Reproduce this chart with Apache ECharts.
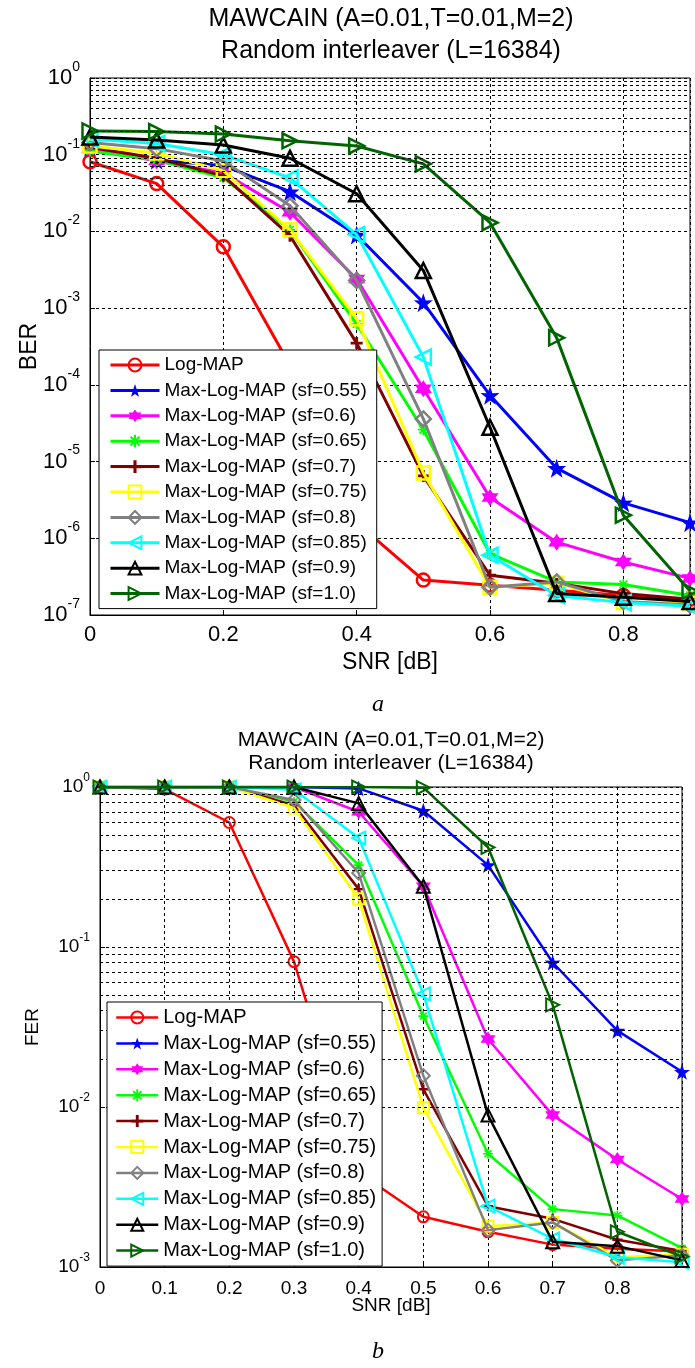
<!DOCTYPE html>
<html>
<head>
<meta charset="utf-8">
<script src="https://cdn.jsdelivr.net/npm/echarts@6/dist/echarts.min.js"></script>
<style>
html,body{margin:0;padding:0;background:#fff;}
#a{position:absolute;left:0;top:0;width:695px;height:720px;}
#b{position:absolute;left:0;top:720px;width:695px;height:648px;}
</style>
</head>
<body>
<div id="a"></div>
<div id="b"></div>
<script>
// ---------------- DATA ----------------
const titleLine1 = 'MAWCAIN (A=0.01,T=0.01,M=2)';
const titleLine2 = 'Random interleaver (L=16384)';
const xName = 'SNR [dB]';
const snr = [0, 0.1, 0.2, 0.3, 0.4, 0.5, 0.6, 0.7, 0.8, 0.9];
const seriesNames = ['Log-MAP', 'Max-Log-MAP (sf=0.55)', 'Max-Log-MAP (sf=0.6)', 'Max-Log-MAP (sf=0.65)',
  'Max-Log-MAP (sf=0.7)', 'Max-Log-MAP (sf=0.75)', 'Max-Log-MAP (sf=0.8)', 'Max-Log-MAP (sf=0.85)',
  'Max-Log-MAP (sf=0.9)', 'Max-Log-MAP (sf=1.0)'];

// BER (figure a)
const berLogMAP = [0.081, 0.042, 0.0063, 1.8e-4, 1.6e-6, 2.85e-7, 2.45e-7, 2.1e-7, 1.8e-7, 1.6e-7];
const berSf055  = [0.125, 0.085, 0.072, 0.033, 0.009, 0.00118, 7.3e-5, 8.2e-6, 2.9e-6, 1.6e-6];
const berSf060  = [0.12, 0.083, 0.058, 0.0178, 0.0024, 8.9e-5, 3.4e-6, 8.9e-7, 4.9e-7, 3.0e-7];
const berSf065  = [0.112, 0.085, 0.05, 0.0105, 6.2e-4, 2.6e-5, 6.3e-7, 2.7e-7, 2.5e-7, 1.8e-7];
const berSf070  = [0.125, 0.09, 0.053, 0.0088, 3.5e-4, 6.5e-6, 3.3e-7, 2.6e-7, 1.9e-7, 1.6e-7];
const berSf075  = [0.13, 0.105, 0.062, 0.0105, 7.3e-4, 7.1e-6, 2.3e-7, 2.6e-7, 1.45e-7, 1.4e-7];
const berSf080  = [0.144, 0.12, 0.083, 0.0216, 0.0023, 3.6e-5, 2.3e-7, 2.7e-7, 1.5e-7, 1.35e-7];
const berSf085  = [0.16, 0.14, 0.10, 0.05, 0.0091, 2.3e-4, 6.0e-7, 1.8e-7, 1.45e-7, 1.3e-7];
const berSf090  = [0.17, 0.155, 0.134, 0.09, 0.031, 0.0031, 2.8e-5, 1.9e-7, 1.7e-7, 1.5e-7];
const berSf100  = [0.204, 0.2, 0.186, 0.152, 0.13, 0.076, 0.013, 4.1e-4, 2.0e-6, 2.05e-7];

// FER (figure b)
const ferLogMAP = [1.0, 0.97, 0.6, 0.081, 0.0039, 0.00206, 0.00166, 0.00138, 0.0013, 0.00125];
const ferSf055  = [1.0, 1.0, 1.0, 1.0, 0.98, 0.71, 0.325, 0.08, 0.030, 0.0166];
const ferSf060  = [1.0, 1.0, 1.0, 1.0, 0.70, 0.24, 0.0266, 0.0089, 0.0047, 0.00266];
const ferSf065  = [1.0, 1.0, 1.0, 0.81, 0.325, 0.037, 0.0051, 0.0023, 0.0021, 0.00131];
const ferSf070  = [1.0, 1.0, 1.0, 0.77, 0.23, 0.0129, 0.0024, 0.0020, 0.00148, 0.00126];
const ferSf075  = [1.0, 1.0, 1.0, 0.74, 0.20, 0.0099, 0.0018, 0.0019, 0.00115, 0.0012];
const ferSf080  = [1.0, 1.0, 1.0, 0.83, 0.29, 0.0157, 0.0017, 0.0019, 0.0011, 0.00118];
const ferSf085  = [1.0, 1.0, 1.0, 0.96, 0.48, 0.051, 0.0024, 0.0015, 0.00115, 0.00107];
const ferSf090  = [1.0, 1.0, 1.0, 1.0, 0.79, 0.24, 0.0089, 0.00144, 0.00135, 0.0011];
const ferSf100  = [1.0, 1.0, 1.0, 1.0, 1.0, 0.99, 0.42, 0.0435, 0.00166, 0.00116];

const berSeries = [berLogMAP, berSf055, berSf060, berSf065, berSf070, berSf075, berSf080, berSf085, berSf090, berSf100];
const ferSeries = [ferLogMAP, ferSf055, ferSf060, ferSf065, ferSf070, ferSf075, ferSf080, ferSf085, ferSf090, ferSf100];

// ---------------- STYLE ----------------
const FONT = '"Liberation Sans", Arial, sans-serif';
const colors = ['#ff0000', '#0000ff', '#ff00ff', '#00ff00', '#800000', '#ffff00', '#808080', '#00ffff', '#000000', '#006400'];
const SYM = {
  circle: 'circle',
  pentagram: 'path://M50,0L61.8,35.1L97.6,34.5L69.1,56.9L79.4,90.5L50,70L20.6,90.5L30.9,56.9L2.4,34.5L38.2,35.1Z',
  hexagram: 'path://M50,0L64.4,25L93.3,25L78.9,50L93.3,75L64.4,75L50,100L35.6,75L6.7,75L21.1,50L6.7,25L35.6,25Z',
  asterisk: 'path://M42,0H58V100H42Z M0,42H100V58H0Z M10,21L21,10L90,79L79,90Z M79,10L90,21L21,90L10,79Z',
  plus: 'path://M38,0H62V38H100V62H62V100H38V62H0V38H38Z',
  square: 'rect',
  diamond: 'diamond',
  left: 'path://M0,50L100,0L100,100Z',
  up: 'path://M50,0L100,100L0,100Z',
  right: 'path://M100,50L0,0L0,100Z'
};
const markers = [
  {s: SYM.circle, open: true, k: 0.85}, {s: SYM.pentagram, open: false, k: 1.25}, {s: SYM.hexagram, open: false, k: 1.15},
  {s: SYM.asterisk, open: false, k: 0.75}, {s: SYM.plus, open: false, k: 0.8}, {s: SYM.square, open: true, k: 0.85},
  {s: SYM.diamond, open: true, k: 1.0}, {s: SYM.left, open: true, k: 1.0}, {s: SYM.up, open: true, k: 1.0}, {s: SYM.right, open: true, k: 1.0}
];

function minorValues(minExp, maxExp) {
  const out = [];
  for (let e = minExp; e < maxExp; e++) {
    for (let m = 2; m <= 9; m++) out.push({yAxis: m * Math.pow(10, e)});
  }
  return out;
}

function buildSeries(sets, lw, ss, bw) {
  return sets.map((vals, i) => {
    const mk = markers[i];
    return {
      type: 'line', name: seriesNames[i],
      data: snr.map((x, k) => [x, vals[k]]),
      symbol: mk.s, symbolSize: Math.round(ss * mk.k),
      showAllSymbol: true,
      lineStyle: {color: colors[i], width: lw},
      itemStyle: mk.open ? {color: 'rgba(0,0,0,0)', borderColor: colors[i], borderWidth: bw}
                         : {color: colors[i], borderColor: colors[i], borderWidth: 0},
      emphasis: {disabled: true},
      animation: false, z: 3 + i * 0.01
    };
  });
}

function supLabel(base, sup, pad) {
  return {
    formatter: v => '{b|10}{s|' + Math.round(Math.log10(v)) + '}',
    rich: {
      b: {fontSize: base, fontFamily: FONT, color: '#000'},
      s: {fontSize: sup, fontFamily: FONT, color: '#000', padding: [0, 0, pad, 0]}
    }
  };
}

function makeOption(cfg) {
  const series = buildSeries(cfg.sets, cfg.lw, cfg.ss, cfg.bw);
  series.unshift({
    type: 'line', name: '_minor', data: [], silent: true, animation: false, z: 1,
    markLine: {
      silent: true, symbol: ['none', 'none'], animation: false,
      label: {show: false},
      lineStyle: {color: '#000', type: [3, 3], width: 1},
      emphasis: {disabled: true},
      data: minorValues(cfg.minExp, 0)
    }
  });
  return {
    backgroundColor: 'transparent',
    animation: false,
    grid: {left: cfg.grid.left, top: cfg.grid.top, width: cfg.grid.width, height: cfg.grid.height,
      show: true, borderColor: '#000', borderWidth: 1, backgroundColor: 'transparent', containLabel: false},
    xAxis: {
      type: 'value', min: 0, max: 0.9, interval: cfg.xInterval,
      name: xName, nameLocation: 'middle', nameGap: cfg.xNameGap, nameMoveOverlap: false,
      nameTextStyle: {fontSize: cfg.xNameSize, fontFamily: FONT, color: '#000'},
      axisLine: {show: true, lineStyle: {color: '#000', width: 1}},
      axisTick: {show: true, inside: true, length: 5, lineStyle: {color: '#000'}},
      axisLabel: {fontSize: cfg.tickSize, fontFamily: FONT, color: '#000', margin: cfg.xLabelMargin,
        showMaxLabel: false, formatter: v => (Math.round(v * 10) / 10).toString()},
      splitLine: {show: true, lineStyle: {color: '#000', type: [3, 3], width: 1}}
    },
    yAxis: {
      type: 'log', logBase: 10, min: Math.pow(10, cfg.minExp), max: 1, splitNumber: -cfg.minExp,
      name: cfg.yName, nameLocation: 'middle', nameGap: cfg.yNameGap, nameRotate: 90, nameMoveOverlap: false,
      nameTextStyle: {fontSize: cfg.yNameSize, fontFamily: FONT, color: '#000'},
      axisLine: {show: true, lineStyle: {color: '#000', width: 1}},
      axisTick: {show: true, inside: true, length: 5, lineStyle: {color: '#000'}},
      axisLabel: Object.assign({margin: 10, color: '#000'}, supLabel(cfg.tickSize, cfg.supSize, cfg.supPad)),
      splitLine: {show: true, lineStyle: {color: '#000', type: [3, 3], width: 1}},
      minorTick: {show: false}
    },
    legend: {
      data: seriesNames, orient: 'vertical',
      left: cfg.legend.left, top: cfg.legend.top,
      padding: cfg.legend.padding,
      itemWidth: cfg.legend.itemWidth, itemHeight: cfg.legend.itemHeight, itemGap: cfg.legend.itemGap,
      backgroundColor: '#fff', borderColor: '#000', borderWidth: 1, borderRadius: 0,
      selectedMode: false, z: 10,
      lineStyle: {width: cfg.lw},
      textStyle: {fontSize: cfg.legend.fontSize, lineHeight: cfg.legend.lineHeight, fontFamily: FONT, color: '#000'}
    },
    graphic: cfg.texts.map(t => ({
      type: 'text', x: t.x, y: t.y, z: 20, silent: true,
      style: {text: t.text, font: t.font, fill: '#000', align: 'center', verticalAlign: 'middle',
        textAlign: 'center', textVerticalAlign: 'middle'}
    })),
    series: series
  };
}

const optA = makeOption({
  sets: berSeries, lw: 3, ss: 15, bw: 2.5, minExp: -7,
  grid: {left: 90, top: 78, width: 600, height: 537},
  xInterval: 0.2, xNameGap: 36, xNameSize: 23, tickSize: 22, supSize: 14, supPad: 22, xLabelMargin: 9,
  yName: 'BER', yNameGap: 49, yNameSize: 23,
  legend: {left: 99, top: 350, padding: [5, 10, 5, 10], itemWidth: 49, itemHeight: 16, itemGap: 5.4, fontSize: 19, lineHeight: 20},
  texts: [
    {text: titleLine1, x: 391, y: 19, font: '25px ' + FONT},
    {text: titleLine2, x: 391, y: 51, font: '25px ' + FONT},
    {text: 'a', x: 378, y: 705, font: 'italic 24px "Liberation Serif", "Times New Roman", serif'}
  ]
});

const optB = makeOption({
  sets: ferSeries, lw: 2.5, ss: 13, bw: 2, minExp: -3,
  grid: {left: 100, top: 67, width: 582, height: 480},
  xInterval: 0.1, xNameGap: 29, xNameSize: 19, tickSize: 19, supSize: 12, supPad: 18, xLabelMargin: 12,
  yName: 'FER', yNameGap: 58, yNameSize: 19,
  legend: {left: 107, top: 282, padding: [5, 6, 5, 8], itemWidth: 42, itemHeight: 15, itemGap: 4.9, fontSize: 20, lineHeight: 21},
  texts: [
    {text: titleLine1, x: 391, y: 20, font: '21px ' + FONT},
    {text: titleLine2, x: 391, y: 43, font: '21px ' + FONT},
    {text: 'b', x: 378, y: 632, font: 'italic 24px "Liberation Serif", "Times New Roman", serif'}
  ]
});

echarts.init(document.getElementById('a'), null, {renderer: 'canvas'}).setOption(optA);
echarts.init(document.getElementById('b'), null, {renderer: 'canvas'}).setOption(optB);
</script>
</body>
</html>
